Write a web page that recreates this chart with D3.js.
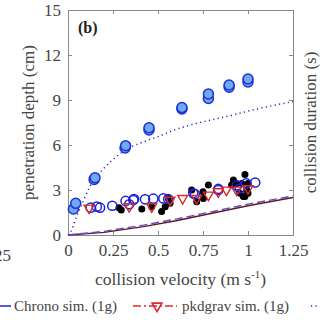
<!DOCTYPE html>
<html>
<head>
<meta charset="utf-8">
<script src="https://cdn.jsdelivr.net/npm/d3@7"></script>
<style>
  body { margin: 0; background: #fff; }
  svg text { font-family: "Liberation Serif", "Times New Roman", "DejaVu Serif", serif !important; fill: #444; }
</style>
</head>
<body>
<script>
// experiment, filled blue circles (velocity, depth)
const filledPts = [
  [0.03, 1.73], [0.043, 2.11], [0.145, 3.7], [0.15, 3.82], [0.317, 5.8], [0.32, 5.95],
  [0.45, 7.0], [0.45, 7.15], [0.633, 8.4], [0.633, 8.5], [0.78, 9.1], [0.78, 9.4],
  [0.895, 9.85], [0.895, 10.0], [1.0, 10.2], [1.0, 10.4]
];
// Chrono open circles
const openPts = [
  [0.126, 1.82], [0.16, 1.89], [0.178, 1.82], [0.246, 1.95], [0.32, 2.27], [0.34, 2.05],
  [0.367, 2.4], [0.363, 2.33], [0.428, 2.38], [0.474, 2.42], [0.53, 2.44], [0.557, 2.4],
  [0.696, 2.78], [0.705, 2.72], [0.835, 3.0], [0.835, 3.07], [0.937, 3.3], [0.955, 3.1],
  [0.99, 3.44], [1.04, 3.5]
];
// pkdgrav triangles
const triPts = [
  [0.117, 1.8], [0.34, 1.9], [0.465, 1.89], [0.567, 2.33], [0.637, 2.44], [0.715, 2.44],
  [0.78, 2.67], [0.835, 2.89], [0.88, 3.0], [0.937, 3.0], [1.0, 3.1]
];
// black dots
const blackPts = [
  [0.283, 1.82], [0.296, 1.67], [0.41, 1.73], [0.465, 1.89], [0.52, 1.56], [0.54, 1.89],
  [0.567, 2.11], [0.557, 2.44], [0.687, 3.0], [0.715, 2.22], [0.752, 2.44], [0.75, 2.89],
  [0.78, 3.33], [0.909, 3.33], [0.919, 3.67], [0.937, 3.44], [0.965, 3.44], [0.983, 4.04],
  [1.0, 3.44], [0.993, 3.0], [0.955, 2.78], [0.983, 2.56], [1.0, 2.78], [0.974, 2.56]
];
// dotted blue curve
const dotCurve = [
  [0, 0], [0.015, 0.22], [0.05, 1.3], [0.09, 2.4], [0.12, 3.2], [0.15, 3.8], [0.18, 4.2],
  [0.22, 4.7], [0.31, 5.6], [0.44, 6.3], [0.51, 6.6], [0.59, 7.0], [0.7, 7.4],
  [0.88, 7.9], [1.05, 8.4], [1.25, 8.9]
];
// bottom lines
const solidLine = [[0, 0], [0.2, 0.18], [0.42, 0.56], [0.6, 0.95], [0.82, 1.5], [1.0, 1.95], [1.25, 2.5]];
const dashLine = [[0, 0], [0.2, 0.24], [0.42, 0.66], [0.6, 1.06], [0.82, 1.6], [1.0, 2.06], [1.25, 2.6]];

const xTicks = [0, 0.25, 0.5, 0.75, 1, 1.25];
const yTicks = [0, 3, 6, 9, 12, 15];

const W = 320, H = 320;
const m = { left: 68, right: 27, top: 10, bottom: 85 };
const serif = '"Liberation Serif", "Times New Roman", serif';

const svg = d3.select('body').append('svg').attr('width', W).attr('height', H)
  .style('font-family', serif);

const x = d3.scaleLinear().domain([0, 1.25]).range([m.left, W - m.right]);
const y = d3.scaleLinear().domain([0, 15]).range([H - m.bottom, m.top]);

const axisCol = '#888';

// axes
const gx = svg.append('g').attr('transform', `translate(0,${y(0)})`)
  .call(d3.axisBottom(x).tickValues(xTicks).tickSize(-4).tickPadding(9).tickFormat(d => String(d)));
const gy = svg.append('g').attr('transform', `translate(${x(0)},0)`)
  .call(d3.axisLeft(y).tickValues(yTicks).tickSize(-4).tickPadding(7));
const gt = svg.append('g').attr('transform', `translate(0,${y(15)})`)
  .call(d3.axisTop(x).tickValues(xTicks).tickSize(-4).tickFormat(''));
const gr = svg.append('g').attr('transform', `translate(${x(1.25)},0)`)
  .call(d3.axisRight(y).tickValues(yTicks).tickSize(-4).tickFormat(''));
[gx, gy, gt, gr].forEach(g => {
  g.attr('font-family', null).style('font-family', serif);
  g.selectAll('path, line').attr('stroke', axisCol);
  g.selectAll('text').attr('font-size', 17).style('font-family', serif);
});

// lines
const line = d3.line().x(d => x(d[0])).y(d => y(d[1]));
svg.append('path').datum(solidLine).attr('d', line).attr('fill', 'none')
  .attr('stroke', '#5a1a24').attr('stroke-width', 1.3);
svg.append('path').datum(dashLine).attr('d', line).attr('fill', 'none')
  .attr('stroke', '#6a48c0').attr('stroke-width', 1.4).attr('stroke-dasharray', '8,4');
svg.append('path').datum(dotCurve).attr('d', d3.line().curve(d3.curveMonotoneX).x(d => x(d[0])).y(d => y(d[1])))
  .attr('fill', 'none').attr('stroke', '#2a2ad0').attr('stroke-width', 1.5)
  .attr('stroke-dasharray', '1.2,3.3');

// markers
svg.append('g').selectAll('circle').data(blackPts).join('circle')
  .attr('cx', d => x(d[0])).attr('cy', d => y(d[1])).attr('r', 3.5).attr('fill', '#000');
svg.append('g').selectAll('circle').data(openPts).join('circle')
  .attr('cx', d => x(d[0])).attr('cy', d => y(d[1])).attr('r', 4.6)
  .attr('fill', 'none').attr('stroke', '#1a22d8').attr('stroke-width', 1.5);
const tri = d3.symbol().type(d3.symbolTriangle).size(42);
svg.append('g').selectAll('path').data(triPts).join('path')
  .attr('d', tri).attr('transform', d => `translate(${x(d[0])},${y(d[1])}) rotate(180)`)
  .attr('fill', 'none').attr('stroke', '#e02828').attr('stroke-width', 1.4);
svg.append('g').selectAll('circle').data(filledPts).join('circle')
  .attr('cx', d => x(d[0])).attr('cy', d => y(d[1])).attr('r', 5)
  .attr('fill', '#72a8f2').attr('stroke', '#1a30d8').attr('stroke-width', 1.5);

// labels
svg.append('text').attr('x', 78).attr('y', 33).attr('font-size', 16).attr('font-weight', 'bold')
  .style('fill', '#222').text('(b)');
svg.append('text').attr('text-anchor', 'middle')
  .attr('transform', `translate(34,${(y(0) + y(15)) / 2}) rotate(-90)`)
  .attr('font-size', 17).text('penetration depth (cm)');
svg.append('text').attr('text-anchor', 'middle')
  .attr('transform', `translate(316,${(y(0) + y(15)) / 2}) rotate(-90)`)
  .attr('font-size', 17).text('collision duration (s)');
const xt = svg.append('text').attr('text-anchor', 'middle').attr('x', (x(0) + x(1.25)) / 2).attr('y', 285)
  .attr('font-size', 17.5);
xt.append('tspan').text('collision velocity (m s');
xt.append('tspan').attr('font-size', 11).attr('dy', -7).text('-1');
xt.append('tspan').attr('dy', 7).text(')');
// neighbouring panel tick label (cut at the left edge, as in the source)
svg.append('text').attr('x', 11).attr('y', 261).attr('text-anchor', 'end').attr('font-size', 17).text('1.25');

// legend
const ly = 306;
svg.append('line').attr('x1', -2).attr('x2', 11).attr('y1', ly).attr('y2', ly)
  .attr('stroke', '#1a22d8').attr('stroke-width', 1.5);
svg.append('text').attr('x', 14).attr('y', 311).attr('font-size', 15).text('Chrono sim. (1g)');
svg.append('line').attr('x1', 133).attr('x2', 177).attr('y1', ly).attr('y2', ly)
  .attr('stroke', '#e02828').attr('stroke-width', 1.5).attr('stroke-dasharray', '8,3,2,3');
svg.append('path').attr('d', tri).attr('transform', `translate(157,${ly}) rotate(180)`)
  .attr('fill', 'none').attr('stroke', '#e02828').attr('stroke-width', 1.6);
svg.append('text').attr('x', 182).attr('y', 311).attr('font-size', 15).text('pkdgrav sim. (1g)');
svg.append('line').attr('x1', 311).attr('x2', 322).attr('y1', ly).attr('y2', ly)
  .attr('stroke', '#2a2ad0').attr('stroke-width', 1.5).attr('stroke-dasharray', '1.2,3.3');
</script>
</body>
</html>
